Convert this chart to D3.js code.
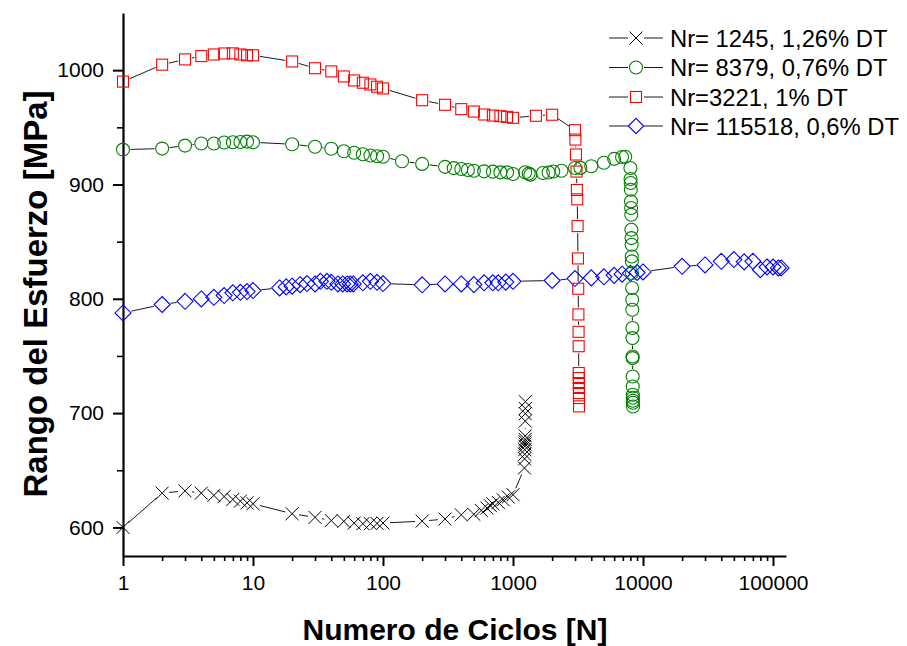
<!DOCTYPE html>
<html>
<head>
<meta charset="utf-8">
<script src="https://cdn.jsdelivr.net/npm/d3@7"></script>
<style>
  html, body { margin: 0; padding: 0; background: #fff; }
  svg { display: block; font-family: "Liberation Sans", Arial, sans-serif; }
</style>
</head>
<body>
<svg id="chart" width="907" height="646"></svg>
<script>
// ---------- DATA ----------
const crossN = [1,2,3,4,5,6,7,8,9,10,20,30,40,50,60,70,80,90,100,200,300,400,500,570,630,670,700,770,840,920,1000,1225,1228,1230,1232,1234,1236,1238,1240,1241,1242,1243,1244,1245];
const crossV = [600,630,632,630,628,627,624.5,623,621.5,620.7,612,608.8,606,605.3,603.8,603.3,603.3,603.5,603.8,605.5,607.3,611,611.5,614.9,617,619,620.7,621.9,624.2,626.6,628.6,652,660,664,668,671,673,675,677,680,693,699.5,704,710];

const circleN = [1,2,3,4,5,6,7,8,9,10,20,30,40,50,60,70,80,90,100,140,200,300,350,400,450,500,600,700,800,900,1000,1240,1320,1360,1700,1880,2040,2360,3000,3300,4000,5000,6000,6900,7300,
  8000,8020,8040,8060,8080,8100,8120,8140,8160,8180,8200,8215,8230,8245,8260,8275,8290,8300,8310,8320,8330,8340,8350,8360,8365,8370,8379];
const circleV = [930.5,931.4,934,935.8,935.8,936.7,937,937.2,937.5,936.9,935.2,933,931.2,929.1,927.7,926.5,925.3,924.7,924.2,920.3,918,915.4,914.3,913.5,912.6,912,911.5,911.2,910.6,910.6,909.2,910.7,909.5,908.6,910.1,910.5,911.3,912,914.4,914.5,916,919,922.4,924,924.3,
  914.4,904.8,901.3,895.4,885.2,879.4,873.5,860.4,853.1,847.3,837,832.7,822.5,809.4,799.1,790.4,774.4,765.6,749.5,748.1,732,723.3,716,713.4,710.8,709,705.8];

const squareN = [1,2,3,4,5,6,7,8,9,10,20,30,40,50,60,70,80,90,100,200,300,400,500,600,700,800,900,1000,1500,2000,
  3000,3020,3050,3080,3100,3120,3140,3160,3175,3185,3195,3200,3205,3209,3212,3215,3217,3219,3221];
const squareV = [990,1004.8,1009.4,1012.3,1013.7,1014.6,1014.7,1013.7,1013,1013,1007.6,1001.7,998.9,994.5,991,989,987.5,985.5,984,973.7,969.7,965.9,963.8,961.2,960.3,959.7,959.2,958.3,960.1,961,
  947.5,939.3,926.2,911.3,895.2,887,863.6,835.3,808.8,786.3,771.1,758.5,735.1,730.7,726.3,722,717.6,713.2,705.9];

const diamondN = [1,2,3,4,5,6,7,8,9,10,16,18,20,23,26,30,33,37,40,45,49,53,56,59,70,80,90,100,200,300,400,500,600,700,770,880,1000,2000,3000,4000,5000,6000,6900,8000,9000,10000,20000,30000,40000,50000,60000,70000,80000,90000,100000,110000,115518];
const diamondV = [787.6,795,797.8,799.9,801.3,802.8,805.2,805.7,806.3,807.2,809.5,810.4,811,812.3,813.3,813,815.3,815.3,814.4,813,813,813,813,813,814,815.3,814.4,813.3,812.2,813,813,812.4,814,814,814,814.6,815.3,816,817.7,818.3,819.2,820.5,821.5,822.3,823,823.5,828.4,829.6,832.8,834.3,832.3,832.8,825.5,827.8,827.8,827,827];

const legendLabels = ["Nr= 1245, 1,26% DT", "Nr= 8379, 0,76% DT", "Nr=3221, 1% DT", "Nr= 115518, 0,6% DT"];
const yMajorTicks = [600,700,800,900,1000];
const yMinorTicks = [650,750,850,950];
const xMajorTicks = [1,10,100,1000,10000,100000];
const xTitle = "Numero de Ciclos [N]";
const yTitle = "Rango del Esfuerzo [MPa]";

// ---------- LAYOUT ----------
const svg = d3.select("#chart");
const x = d3.scaleLog().domain([1, Math.pow(10, 5.1)]).range([123, 786]);
const y = d3.scaleLinear().domain([575, 1050]).range([556, 13]);

const xMinorTicks = [];
for (let d = 1; d <= 100000; d *= 10) for (let k = 2; k <= 9; k++) if (d * k <= Math.pow(10, 5.1)) xMinorTicks.push(d * k);

// axes
const gx = svg.append("g").attr("transform", "translate(0,556)");
gx.call(d3.axisBottom(x).tickValues(xMinorTicks).tickSize(5).tickFormat(""));
gx.selectAll(".tick line").attr("stroke-width", 1.6);
gx.select(".domain").remove();
const gx2 = svg.append("g").attr("transform", "translate(0,556)");
gx2.call(d3.axisBottom(x).tickValues(xMajorTicks).tickSize(10).tickPadding(9).tickSizeOuter(0).tickFormat(d3.format("d")));
gx2.selectAll(".tick line").attr("stroke-width", 2);
gx2.selectAll(".tick text").attr("font-size", 21).attr("fill", "#000").attr("font-family", "Liberation Sans, Arial, sans-serif");
gx2.select(".domain").attr("stroke-width", 2.2);

const gy = svg.append("g").attr("transform", "translate(123,0)");
gy.call(d3.axisLeft(y).tickValues(yMinorTicks).tickSize(6).tickFormat(""));
gy.selectAll(".tick line").attr("stroke-width", 1.6);
gy.select(".domain").remove();
const gy2 = svg.append("g").attr("transform", "translate(123,0)");
gy2.call(d3.axisLeft(y).tickValues(yMajorTicks).tickSize(10).tickPadding(9).tickSizeOuter(0).tickFormat(d3.format("d")));
gy2.selectAll(".tick line").attr("stroke-width", 2);
gy2.selectAll(".tick text").attr("font-size", 21).attr("fill", "#000").attr("font-family", "Liberation Sans, Arial, sans-serif");
gy2.select(".domain").attr("stroke-width", 2.2);

// titles
svg.append("text").attr("x", 455).attr("y", 640).attr("text-anchor", "middle")
  .attr("font-weight", "bold").attr("font-size", 30).text(xTitle);
svg.append("text").attr("transform", "translate(47,294) rotate(-90)").attr("text-anchor", "middle")
  .attr("font-weight", "bold").attr("font-size", 33).text(yTitle);

// ---------- MARKERS ----------
const markerDefs = {
  cross:   { color: "#000000", gap: 7 },
  circle:  { color: "#008000", gap: 7.5 },
  square:  { color: "#ff0000", gap: 7 },
  diamond: { color: "#0000ff", gap: 8.5 }
};
function drawMarker(g, type, cx, cy, scale) {
  const s = scale || 1;
  const c = markerDefs[type].color;
  if (type === "cross") {
    const h = 6.5 * s;
    g.append("path").attr("d", `M${cx-h},${cy-h}L${cx+h},${cy+h}M${cx-h},${cy+h}L${cx+h},${cy-h}`)
      .attr("stroke", c).attr("stroke-width", 1).attr("fill", "none");
  } else if (type === "circle") {
    g.append("circle").attr("cx", cx).attr("cy", cy).attr("r", 6.5 * s)
      .attr("stroke", c).attr("stroke-width", 1.1).attr("fill", "none");
  } else if (type === "square") {
    const h = 5.5 * s;
    g.append("rect").attr("x", cx - h).attr("y", cy - h).attr("width", 2*h).attr("height", 2*h)
      .attr("stroke", c).attr("stroke-width", 1.1).attr("fill", "none");
  } else if (type === "diamond") {
    const h = 8 * s;
    g.append("path").attr("d", `M${cx},${cy-h}L${cx+h},${cy}L${cx},${cy+h}L${cx-h},${cy}Z`)
      .attr("stroke", c).attr("stroke-width", 1.1).attr("fill", "none");
  }
}

function drawSeries(N, V, type) {
  const g = svg.append("g");
  const pts = N.map((n, i) => [x(n), y(V[i])]);
  const gap = markerDefs[type].gap;
  const lg = g.append("g");
  for (let i = 0; i < pts.length - 1; i++) {
    const [x1, y1] = pts[i], [x2, y2] = pts[i+1];
    const dx = x2 - x1, dy = y2 - y1, d = Math.hypot(dx, dy);
    if (d <= 2 * gap) continue;
    const ux = dx / d, uy = dy / d;
    lg.append("line").attr("x1", x1 + ux*gap).attr("y1", y1 + uy*gap)
      .attr("x2", x2 - ux*gap).attr("y2", y2 - uy*gap)
      .attr("stroke", "#1a1a1a").attr("stroke-width", 1);
  }
  const mg = g.append("g");
  pts.forEach(p => drawMarker(mg, type, p[0], p[1]));
}

drawSeries(diamondN, diamondV, "diamond");
drawSeries(squareN, squareV, "square");
drawSeries(circleN, circleV, "circle");
drawSeries(crossN, crossV, "cross");

// ---------- LEGEND ----------
const legendTypes = ["cross", "circle", "square", "diamond"];
const legendY = [38, 67.5, 97, 126];
const lg = svg.append("g");
legendTypes.forEach((t, i) => {
  const cy = legendY[i];
  lg.append("line").attr("x1", 609).attr("x2", 628).attr("y1", cy).attr("y2", cy).attr("stroke", "#1a1a1a").attr("stroke-width", 1);
  lg.append("line").attr("x1", 644).attr("x2", 663).attr("y1", cy).attr("y2", cy).attr("stroke", "#1a1a1a").attr("stroke-width", 1);
  drawMarker(lg, t, 636, cy, t === "diamond" ? 0.95 : 1);
  lg.append("text").attr("x", 670).attr("y", cy).attr("dy", "0.36em").attr("font-size", 23.8).attr("fill", "#000").text(legendLabels[i]);
});
</script>
</body>
</html>
